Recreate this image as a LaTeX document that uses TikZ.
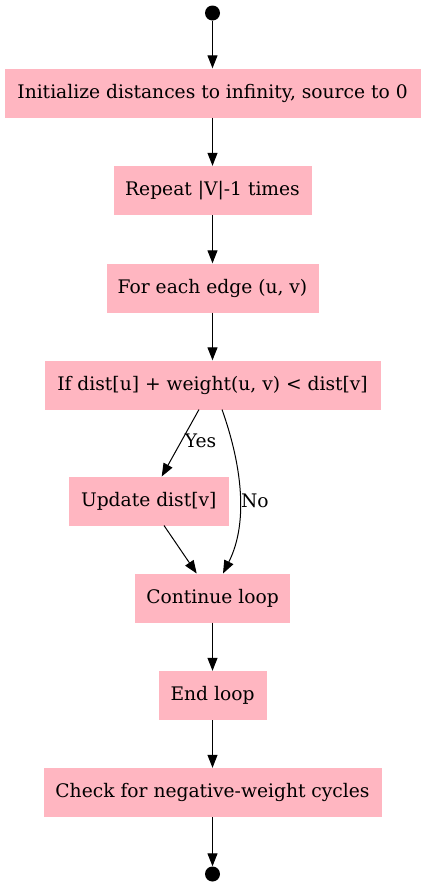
\documentclass[tikz,border=0pt]{standalone}
\usepackage{fontspec}
\setmainfont{DejaVu Serif}
\usetikzlibrary{arrows.meta}
\definecolor{boxpink}{HTML}{FFB6C1}
\begin{document}
\begin{tikzpicture}[x=1pt,y=1pt,
  box/.style={fill=boxpink, draw=none, inner sep=0pt, minimum height=49pt, font=\fontsize{18.67}{22}\selectfont},
  dot/.style={circle, fill=black, inner sep=0pt, minimum size=15pt},
  arr/.style={-{Triangle[length=13pt,width=10pt]}, line width=1pt},
  lbl/.style={font=\fontsize{18.67}{22}\selectfont, inner sep=1pt}]
\useasboundingbox (0,0) rectangle (425,-887);
\node[dot] (start) at (212.5,-13) {};
\node[box, minimum width=416pt] (init) at (212.5,-93) {Initialize distances to infinity, source to 0};
\node[box, minimum width=198pt] (rep) at (212.5,-190.5) {Repeat |V|-1 times};
\node[box, minimum width=212pt] (each) at (212.5,-288) {For each edge (u, v)};
\node[box, minimum width=336pt] (cond) at (212.5,-385) {If dist[u] + weight(u, v) < dist[v]};
\node[box, minimum width=160pt] (upd) at (148.7,-501) {Update dist[v]};
\node[box, minimum width=155pt] (cont) at (212.5,-598) {Continue loop};
\node[box, minimum width=108pt] (endl) at (212.5,-695.5) {End loop};
\node[box, minimum width=338pt] (check) at (212.5,-792.5) {Check for negative-weight cycles};
\node[dot] (stop) at (212.5,-874) {};
\draw[arr] (start) -- (init);
\draw[arr] (init) -- (rep);
\draw[arr] (rep) -- (each);
\draw[arr] (each) -- (cond);
\coordinate (yesS) at (199,-409.5);
\coordinate (yesE) at (161.7,-476.5);
\draw[arr] (yesS) -- node[lbl, anchor=west, pos=0.47, xshift=2pt] {Yes} (yesE);
\coordinate (noS) at (222,-409.5);
\coordinate (noE) at (223,-573.5);
\draw[arr] (noS) .. controls (240,-460) and (250,-520) .. node[lbl, anchor=west, pos=0.56] {No} (noE);
\coordinate (updS) at (164,-525.5);
\coordinate (updE) at (196.7,-573.5);
\draw[arr] (updS) -- (updE);
\draw[arr] (cont) -- (endl);
\draw[arr] (endl) -- (check);
\draw[arr] (check) -- (stop);
\end{tikzpicture}
\end{document}
